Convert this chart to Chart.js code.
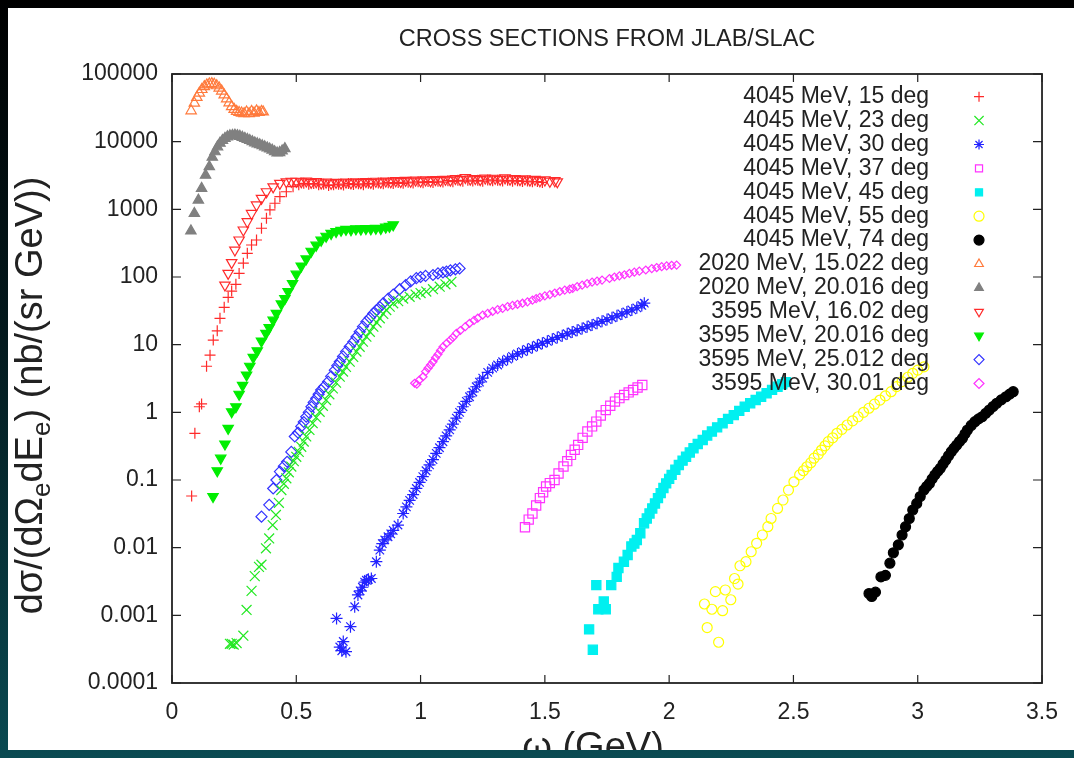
<!DOCTYPE html>
<html>
<head>
<meta charset="utf-8">
<script src="https://cdn.jsdelivr.net/npm/chart.js@4.4.0/dist/chart.umd.min.js"></script>
<style>
  html, body { margin: 0; padding: 0; }
  body { width: 1074px; height: 758px; overflow: hidden;
         background: linear-gradient(to bottom, #000 0%, #031a1e 45%, #0a4a52 100%); }
  #frame { position: absolute; left: 8px; top: 8px; width: 1066px; height: 742px;
           background: #fff; overflow: hidden; }
  #frame canvas { position: absolute; left: 0; top: 0; }
</style>
</head>
<body>
<div id="frame"><canvas id="xsChart" width="1066" height="760"></canvas></div>
<script>
// axis ticks
const xTicks = [0, 0.5, 1, 1.5, 2, 2.5, 3, 3.5];
const xTickLabels = ['0', '0.5', '1', '1.5', '2', '2.5', '3', '3.5'];
const yTicks = [1e-4, 1e-3, 1e-2, 1e-1, 1, 10, 100, 1000, 10000, 100000];
const yTickLabels = ['0.0001', '0.001', '0.01', '0.1', '1', '10', '100', '1000', '10000', '100000'];

const chartTitle = 'CROSS SECTIONS FROM JLAB/SLAC';
const xTitle = 'ω (GeV)';
// y title pieces: [text, isSubscript]
const yTitleParts = [['dσ/(dΩ', 0], ['e', 1], ['dE', 0], ['e', 1], [') (nb/(sr GeV))', 0]];

// ---- data: omega (GeV) and cross section (nb/(sr GeV)) per kinematic setting ----
// 4045 MeV, 15 deg
const w4045_15 = [0.079,0.092,0.110,0.119,0.139,0.153,0.166,0.182,0.193,0.210,
  0.226,0.240,0.257,0.270,0.287,0.303,0.320,0.340,0.360,0.380,
  0.394,0.414,0.434,0.460,0.487,0.510,0.530,
  0.55,0.57,0.59,0.61,0.63,0.65,0.67,0.69,0.71,0.73,
  0.75,0.77,0.79,0.81,0.83,0.85,0.87,0.89,0.91,0.93,
  0.95,0.97,0.99,1.01,1.03,1.05,1.07,1.09,1.11,1.13,
  1.15,1.17,1.19,1.21,1.23,1.25,1.27,1.29,1.31,1.33,
  1.35,1.37,1.39,1.41,1.43,1.45,1.47,1.49];
const s4045_15 = [0.058,0.49,1.21,1.33,4.8,7.0,11.7,16,24.5,35.6,
  50,62,78,113,160,224,297,352,525,738,
  980,1230,1540,1820,2160,2300,2420,
  2350,2400,2300,2350,2250,2300,2350,2280,2400,2320,
  2380,2300,2420,2350,2450,2380,2480,2400,2500,2420,
  2520,2450,2550,2480,2580,2500,2600,2530,2650,2560,
  2680,2600,2700,2620,2680,2600,2720,2640,2700,2620,
  2680,2600,2650,2580,2620,2550,2580,2500];

// 4045 MeV, 23 deg
const w4045_23 = [0.233,0.240,0.248,0.260,0.287,0.300,0.320,0.333,0.350,0.360,
  0.378,0.391,0.405,0.418,0.430,0.440,0.450,0.460,0.470,0.480,
  0.490,0.500,0.510,0.520,0.530,0.540,0.553,0.566,0.580,0.594,
  0.607,0.620,0.633,0.647,0.660,0.675,0.688,0.700,0.715,0.729,
  0.742,0.755,0.768,0.782,0.796,0.810,0.823,0.836,0.850,0.862,
  0.876,0.890,0.910,0.930,0.956,0.980,1.000,1.023,1.050,1.077,
  1.100,1.124];
const s4045_23 = [0.00038,0.00038,0.00037,0.00039,0.0005,0.0012,0.0023,0.0038,0.0052,0.0056,
  0.0098,0.0137,0.0216,0.0304,0.046,0.071,0.088,0.106,0.13,0.158,
  0.19,0.22,0.26,0.31,0.37,0.44,0.55,0.69,0.84,1.02,
  1.25,1.52,1.85,2.26,2.75,3.36,4.0,4.7,5.6,6.6,
  7.9,9.3,11.1,13.1,15.5,18.4,21.2,24.5,28.5,32.5,
  36.5,40.8,44,48,51,55,58,61,66,72,
  78,85];

// 4045 MeV, 30 deg
const w4045_30 = [0.662,0.675,0.683,0.689,0.700,0.718,0.735,0.748,0.757,0.766,
  0.775,0.782,0.790,0.802,0.822,0.836,0.846,0.856,0.869,0.880,
  0.890,0.909,0.930,0.943,0.956,0.970,0.983,0.996,1.009,1.022,
  1.036,1.050,1.063,1.076,1.090,1.103,1.117,1.130,1.144,1.157,
  1.170,1.184,1.197,1.210,1.224,1.237,1.250,1.270,1.290,1.310,
  1.330,1.350,1.370,1.390,1.410,1.430,1.450,1.470,1.490,1.510,
  1.530,1.550,1.570,1.590,1.610,1.630,1.650,1.670,1.690,1.710,
  1.730,1.750,1.770,1.790,1.810,1.830,1.850,1.870,1.890,1.900];
const s4045_30 = [0.0009,0.00034,0.0003,0.00041,0.00029,0.00068,0.00134,0.002,0.0023,0.0026,
  0.0031,0.0033,0.0034,0.0035,0.0062,0.0092,0.0115,0.013,0.0145,0.016,
  0.018,0.0216,0.032,0.04,0.05,0.061,0.075,0.092,0.112,0.137,
  0.167,0.2,0.248,0.3,0.368,0.45,0.55,0.67,0.82,1.0,
  1.21,1.45,1.7,2.0,2.39,2.8,3.2,3.9,4.5,5.0,
  5.6,6.1,6.7,7.3,7.9,8.5,9.1,9.8,10.5,11.2,
  12.0,12.8,13.6,14.5,15.4,16.3,17.3,18.4,19.6,20.8,
  22.1,23.5,25,26.7,28.5,30.5,32.6,35,38,41];

// 4045 MeV, 37 deg
const w4045_37 = [1.420,1.435,1.450,1.465,1.480,1.493,1.505,1.520,1.539,1.555,
  1.575,1.590,1.605,1.620,1.634,1.652,1.671,1.690,1.707,1.725,
  1.745,1.763,1.782,1.800,1.819,1.837,1.855,1.873,1.892];
const s4045_37 = [0.020,0.026,0.032,0.042,0.054,0.066,0.080,0.090,0.100,0.125,
  0.158,0.190,0.235,0.280,0.330,0.420,0.520,0.620,0.730,0.900,
  1.08,1.25,1.44,1.62,1.80,1.97,2.14,2.33,2.53];

// 4045 MeV, 45 deg
const w4045_45 = [1.678,1.693,1.707,1.715,1.737,1.745,1.767,1.789,1.796,1.818,
  1.833,1.848,1.860,1.870,1.884,1.899,1.910,1.921,1.932,1.943,
  1.955,1.966,1.977,1.988,2.000,2.010,2.025,2.039,2.054,2.068,
  2.083,2.098,2.115,2.135,2.153,2.172,2.193,2.215,2.237,2.260,
  2.282,2.304,2.326,2.348,2.370,2.392,2.414,2.436,2.455,2.470];
const s4045_45 = [0.00062,0.00031,0.0028,0.00123,0.0016,0.00123,0.0028,0.0037,0.005,0.0062,
  0.0078,0.0104,0.0115,0.013,0.0163,0.023,0.027,0.032,0.038,0.045,
  0.054,0.064,0.076,0.089,0.104,0.119,0.142,0.167,0.193,0.221,
  0.255,0.294,0.34,0.39,0.455,0.52,0.6,0.69,0.8,0.91,
  1.05,1.21,1.36,1.52,1.7,1.91,2.15,2.39,2.6,2.8];

// 4045 MeV, 55 deg
const w4045_55 = [2.142,2.153,2.172,2.186,2.199,2.215,2.226,2.248,2.263,2.277,
  2.285,2.309,2.330,2.352,2.375,2.397,2.410,2.436,2.458,2.480,
  2.502,2.525,2.540,2.554,2.570,2.583,2.600,2.613,2.627,2.640,
  2.658,2.675,2.695,2.716,2.738,2.760,2.782,2.804,2.826,2.848,
  2.870,2.893,2.915,2.937,2.960,2.980,3.000,3.025];
const s4045_55 = [0.00147,0.00066,0.00123,0.00224,0.0004,0.00117,0.00237,0.0017,0.0035,0.0029,
  0.0054,0.0062,0.0087,0.0116,0.0154,0.0204,0.027,0.038,0.0506,0.071,
  0.094,0.119,0.137,0.157,0.18,0.21,0.24,0.277,0.32,0.368,
  0.42,0.49,0.56,0.65,0.75,0.86,1.0,1.15,1.32,1.52,
  1.75,2.02,2.4,2.84,3.3,3.77,4.2,4.7];

// 4045 MeV, 74 deg
const w4045_74 = [2.804,2.815,2.830,2.852,2.870,2.888,2.902,2.922,2.937,2.951,
  2.966,2.980,2.996,3.010,3.025,3.036,3.047,3.058,3.069,3.080,
  3.091,3.102,3.113,3.124,3.135,3.146,3.157,3.168,3.180,3.190,
  3.200,3.215,3.230,3.245,3.259,3.274,3.288,3.303,3.318,3.336,
  3.355,3.370,3.384];
const s4045_74 = [0.0021,0.0019,0.0022,0.0037,0.0039,0.0059,0.0084,0.011,0.0154,0.0204,
  0.027,0.036,0.045,0.057,0.071,0.08,0.089,0.104,0.119,0.134,
  0.149,0.172,0.197,0.228,0.262,0.295,0.329,0.37,0.413,0.48,
  0.548,0.64,0.727,0.8,0.861,0.97,1.08,1.22,1.36,1.53,
  1.7,1.86,2.02];

// 2020 MeV, 15.022 deg
const w2020_15 = [0.077,0.090,0.100,0.110,0.120,0.130,0.140,0.150,0.160,0.170,
  0.180,0.190,0.200,0.210,0.220,0.230,0.240,0.250,0.260,0.270,
  0.280,0.290,0.300,0.310,0.320,0.330,0.340,0.350,0.360,0.367];
const s2020_15 = [28600,37000,45000,52000,59000,65000,69000,71500,72000,70500,
  67000,62000,56000,49000,43000,37500,33000,30000,28000,27000,
  26500,26000,27500,26000,28000,26500,28500,27000,28000,27500];

// 2020 MeV, 20.016 deg
const w2020_20 = [0.076,0.090,0.106,0.119,0.135,0.150,0.162,0.173,0.183,0.193,
  0.203,0.213,0.223,0.233,0.243,0.253,0.263,0.273,0.283,0.293,
  0.303,0.313,0.323,0.333,0.343,0.353,0.363,0.373,0.383,0.393,
  0.403,0.413,0.423,0.433,0.443,0.454];
const s2020_20 = [480,870,1370,2040,3200,4270,5880,7100,8400,9500,
  10400,11200,11800,12200,12400,12500,12300,12000,11600,11200,
  10800,10400,10000,9600,9300,9000,8700,8400,8100,7800,
  7500,7100,6800,6900,7300,7900];

// 3595 MeV, 16.02 deg
const w3595_16 = [0.213,0.226,0.240,0.253,0.270,0.287,0.303,0.320,0.340,0.360,
  0.380,0.407,0.434,0.460,0.480,
  0.50,0.52,0.54,0.56,0.58,0.60,0.62,0.64,0.66,0.68,
  0.70,0.72,0.74,0.76,0.78,0.80,0.82,0.84,0.86,0.88,
  0.90,0.92,0.94,0.96,0.98,1.00,1.02,1.04,1.06,1.08,
  1.10,1.12,1.14,1.16,1.18,1.20,1.22,1.24,1.26,1.28,
  1.30,1.32,1.34,1.36,1.38,1.40,1.42,1.44,1.46,1.48,
  1.50,1.52,1.54,1.55];
const s3595_16 = [76,113,163,250,352,495,656,870,1160,1455,
  1820,2150,2420,2550,2600,
  2600,2550,2620,2500,2560,2450,2520,2430,2500,2450,
  2530,2460,2550,2480,2580,2500,2600,2520,2620,2550,
  2650,2580,2680,2600,2700,2620,2720,2650,2750,2680,
  2780,2700,2850,2750,2950,2800,2850,2750,2900,2800,
  2880,2780,2920,2800,2850,2750,2820,2700,2780,2650,
  2720,2600,2650,2550];

// 3595 MeV, 20.016 deg
const w3595_20 = [0.165,0.182,0.196,0.213,0.226,0.240,0.257,0.270,0.284,0.300,
  0.313,0.327,0.343,0.360,0.378,0.391,0.407,0.420,0.440,0.454,
  0.467,0.485,0.500,0.520,0.540,0.560,0.580,0.600,0.620,0.640,
  0.660,0.680,0.700,0.720,0.740,0.760,0.780,0.800,0.820,0.840,
  0.860,0.875,0.890];
const s3595_20 = [0.057,0.137,0.21,0.34,0.58,1.02,1.21,1.85,2.5,3.56,
  4.8,6.5,8.1,11.3,14.7,17.8,23,29,40,48,
  61,80,110,145,185,240,295,350,400,440,
  470,490,505,500,515,510,520,515,525,520,
  545,560,590];

// 3595 MeV, 25.012 deg
const w3595_25 = [0.360,0.391,0.407,0.420,0.434,0.450,0.463,0.480,0.494,0.507,
  0.520,0.530,0.540,0.550,0.561,0.570,0.580,0.590,0.600,0.612,
  0.628,0.640,0.655,0.665,0.675,0.688,0.700,0.715,0.729,0.742,
  0.755,0.768,0.782,0.796,0.810,0.823,0.836,0.850,0.870,0.890,
  0.916,0.940,0.960,0.983,1.000,1.020,1.050,1.070,1.090,1.104,
  1.120,1.140,1.157];
const s3595_25 = [0.0287,0.043,0.075,0.1,0.133,0.16,0.186,0.26,0.44,0.5,
  0.62,0.72,0.86,1.0,1.21,1.4,1.61,1.85,2.14,2.4,
  2.84,3.4,4.2,4.9,5.6,6.7,7.9,9.4,11,13,
  15.5,18.5,21.9,25,29,32.5,36,41,48,55,
  66,76,86,96,100,104,107,113,117,120,
  125,130,134];

// 3595 MeV, 30.01 deg
const w3595_30 = [0.976,0.985,0.995,1.010,1.020,1.030,1.040,1.050,1.060,1.070,
  1.080,1.090,1.105,1.120,1.130,1.144,1.160,1.180,1.197,1.215,
  1.230,1.250,1.270,1.290,1.310,1.330,1.350,1.370,1.390,1.410,
  1.430,1.450,1.465,1.480,1.500,1.520,1.540,1.560,1.580,1.600,
  1.612,1.630,1.650,1.670,1.690,1.710,1.730,1.760,1.780,1.800,
  1.820,1.840,1.860,1.880,1.906,1.930,1.950,1.970,1.990,2.010,
  2.030];
const s3595_30 = [2.69,2.6,3.0,3.36,4.0,4.5,5.0,5.6,6.4,7.2,
  8.2,9.3,10.5,11.8,12.8,14.7,16.2,18.5,20.7,22.8,
  24.6,27.4,29,31,33,34.4,36.5,38,39.5,41,
  43,45.5,48,50,52.5,55,58,61,64,66,
  68,72,76,80,84,87,90,95,100,104,
  108,113,118,122,127,133,138,142,146,149,
  150];

const FONT = "'Liberation Sans', Arial, Helvetica, sans-serif";
const NONE = 'rgba(0,0,0,0)';

function series(label, xs, ys, style) {
  return Object.assign({
    label: label,
    data: xs.map((x, i) => ({ x: x, y: ys[i] })),
    showLine: false,
    pointBorderWidth: 1.2,
    pointRotation: 0
  }, style);
}

const datasets = [
  series('4045 MeV, 15 deg', w4045_15, s4045_15, { pointStyle: 'cross', pointRadius: 5.5, pointBorderColor: '#ff2a2a', pointBackgroundColor: NONE }),
  series('4045 MeV, 23 deg', w4045_23, s4045_23, { pointStyle: 'crossRot', pointRadius: 7, pointBorderColor: '#22e822', pointBackgroundColor: NONE }),
  series('4045 MeV, 30 deg', w4045_30, s4045_30, { pointStyle: 'star', pointRadius: 6, pointBorderColor: '#2222ff', pointBackgroundColor: NONE }),
  series('4045 MeV, 37 deg', w4045_37, s4045_37, { pointStyle: 'rect', pointRadius: 6.5, pointBorderColor: '#ff33ff', pointBackgroundColor: NONE }),
  series('4045 MeV, 45 deg', w4045_45, s4045_45, { pointStyle: 'rect', pointRadius: 6.5, pointBorderColor: '#00f0f0', pointBackgroundColor: '#00f0f0' }),
  series('4045 MeV, 55 deg', w4045_55, s4045_55, { pointStyle: 'circle', pointRadius: 5, pointBorderColor: '#ffff00', pointBackgroundColor: NONE }),
  series('4045 MeV, 74 deg', w4045_74, s4045_74, { pointStyle: 'circle', pointRadius: 5, pointBorderColor: '#000', pointBackgroundColor: '#000' }),
  series('2020 MeV, 15.022 deg', w2020_15, s2020_15, { pointStyle: 'triangle', pointRadius: 6, pointBorderColor: '#ff7a3c', pointBackgroundColor: NONE }),
  series('2020 MeV, 20.016 deg', w2020_20, s2020_20, { pointStyle: 'triangle', pointRadius: 6, pointBorderColor: '#808080', pointBackgroundColor: '#808080' }),
  series('3595 MeV, 16.02 deg', w3595_16, s3595_16, { pointStyle: 'triangle', pointRotation: 180, pointRadius: 6, pointBorderColor: '#ff2a2a', pointBackgroundColor: NONE }),
  series('3595 MeV, 20.016 deg', w3595_20, s3595_20, { pointStyle: 'triangle', pointRotation: 180, pointRadius: 6, pointBorderColor: '#00ee00', pointBackgroundColor: '#00ee00' }),
  series('3595 MeV, 25.012 deg', w3595_25, s3595_25, { pointStyle: 'rectRot', pointRadius: 5.5, pointBorderColor: '#3333ff', pointBackgroundColor: NONE }),
  series('3595 MeV, 30.01 deg', w3595_30, s3595_30, { pointStyle: 'rectRot', pointRadius: 4, pointBorderColor: '#ff33ff', pointBackgroundColor: NONE })
];

// frame with inward ticks on all four sides, like the gnuplot original
const framePlugin = {
  id: 'frame',
  afterDatasetsDraw(chart) {
    const { ctx, chartArea: a, scales: { x, y } } = chart;
    ctx.save();
    ctx.strokeStyle = '#222';
    ctx.lineWidth = 1.2;
    ctx.beginPath();
    xTicks.forEach(v => {
      const px = x.getPixelForValue(v);
      ctx.moveTo(px, a.bottom); ctx.lineTo(px, a.bottom - 8);
      ctx.moveTo(px, a.top); ctx.lineTo(px, a.top + 8);
    });
    yTicks.forEach(v => {
      const py = y.getPixelForValue(v);
      ctx.moveTo(a.left, py); ctx.lineTo(a.left + 9, py);
      ctx.moveTo(a.right, py); ctx.lineTo(a.right - 9, py);
    });
    ctx.stroke();
    ctx.lineWidth = 1.8;
    ctx.strokeRect(a.left, a.top, a.right - a.left, a.bottom - a.top);
    ctx.restore();
  }
};

// key drawn inside the plot: text right aligned, symbol to the right
const keyPlugin = {
  id: 'key',
  afterDraw(chart) {
    const { ctx, chartArea: a } = chart;
    ctx.save();
    ctx.font = '23px ' + FONT;
    ctx.textAlign = 'right';
    ctx.textBaseline = 'middle';
    chart.data.datasets.forEach((ds, i) => {
      const yy = a.top + 22.7 + i * 23.9;
      ctx.fillStyle = '#222';
      ctx.fillText(ds.label, a.right - 113, yy);
      ctx.fillStyle = ds.pointBackgroundColor;
      ctx.strokeStyle = ds.pointBorderColor;
      ctx.lineWidth = 1.2;
      Chart.helpers.drawPoint(ctx, {
        pointStyle: ds.pointStyle,
        radius: ds.pointStyle === 'crossRot' ? 6.5 : 5,
        rotation: ds.pointRotation || 0,
        borderWidth: 1.2
      }, a.right - 63, yy);
    });
    ctx.restore();
  }
};

// title and axis titles
const textPlugin = {
  id: 'texts',
  afterDraw(chart) {
    const { ctx, chartArea: a } = chart;
    const cx = (a.left + a.right) / 2;
    ctx.save();
    ctx.fillStyle = '#222';
    ctx.textAlign = 'center';
    ctx.textBaseline = 'middle';
    ctx.font = '23.5px ' + FONT;
    ctx.fillText(chartTitle, cx, 32);

    ctx.textBaseline = 'alphabetic';
    ctx.font = '38px ' + FONT;
    ctx.fillText(xTitle, cx - 14, 751);

    // rotated y title with subscripts
    ctx.translate(22, (a.top + a.bottom) / 2 + 17);
    ctx.rotate(-Math.PI / 2);
    ctx.textAlign = 'left';
    const big = '38px ' + FONT, small = '26px ' + FONT;
    let total = 0;
    yTitleParts.forEach(([t, sub]) => { ctx.font = sub ? small : big; total += ctx.measureText(t).width; });
    let pos = -total / 2;
    yTitleParts.forEach(([t, sub]) => {
      ctx.font = sub ? small : big;
      ctx.fillText(t, pos, sub ? 20 : 12);
      pos += ctx.measureText(t).width;
    });
    ctx.restore();
  }
};

new Chart(document.getElementById('xsChart'), {
  type: 'scatter',
  data: { datasets: datasets },
  options: {
    responsive: false,
    animation: false,
    devicePixelRatio: 1,
    layout: { padding: { left: 0, right: 31, top: 66, bottom: 0 } },
    plugins: {
      legend: { display: false },
      tooltip: { enabled: false },
      title: { display: false }
    },
    scales: {
      x: {
        type: 'linear',
        min: 0,
        max: 3.5,
        afterBuildTicks: s => { s.ticks = xTicks.map(v => ({ value: v })); },
        afterFit: s => { s.height = 85; },
        grid: { display: false, drawTicks: false, tickLength: 0 },
        border: { display: false },
        ticks: {
          autoSkip: false,
          maxRotation: 0,
          padding: 16,
          color: '#222',
          font: { family: FONT, size: 23 },
          callback: (v, i) => xTickLabels[i]
        }
      },
      y: {
        type: 'logarithmic',
        min: 1e-4,
        max: 1e5,
        afterBuildTicks: s => { s.ticks = yTicks.map(v => ({ value: v })); },
        afterFit: s => { s.width = 164; },
        grid: { display: false, drawTicks: false, tickLength: 0 },
        border: { display: false },
        ticks: {
          autoSkip: false,
          padding: 14,
          color: '#222',
          font: { family: FONT, size: 23 },
          callback: (v, i) => yTickLabels[i]
        }
      }
    }
  },
  plugins: [framePlugin, keyPlugin, textPlugin]
});
</script>
</body>
</html>
